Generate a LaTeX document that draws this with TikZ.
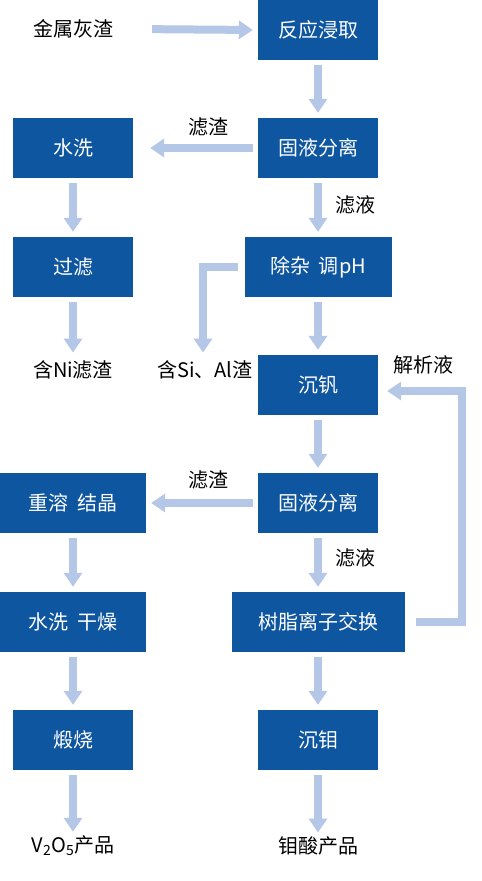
\documentclass[tikz,border=0pt]{standalone}
\usepackage{fontspec}
\setmainfont{Noto Sans CJK SC}
\usepackage{tikz}
\usetikzlibrary{arrows.meta}
\definecolor{boxblue}{RGB}{14,86,160}
\definecolor{flowblue}{RGB}{180,199,231}
\tikzstyle{stepbox} = [fill=boxblue, text=white, rectangle, inner sep=0pt,
    minimum width=120pt, minimum height=60pt, font=\fontsize{20}{20}\selectfont]
\tikzstyle{plain} = [inner sep=0pt, font=\fontsize{20}{20}\selectfont]
\tikzstyle{flow} = [draw=flowblue, line width=8pt,
    -{Triangle[width=18pt,length=14pt]}, shorten <=5pt, shorten >=5pt]

\begin{document}
\begin{tikzpicture}[x=1pt,y=-1pt]
                \useasboundingbox (0,0) rectangle (482,881);
                % right column
                \node [stepbox] (leach) at (318,30) {反应浸取};
                \node [stepbox] (sep1) at (318,148) {固液分离};
                \node [stepbox, minimum width=147pt] (purify) at (318,267) {除杂~~调pH};
                \node [stepbox] (vprec) at (318,385) {沉钒};
                \node [stepbox] (sep2) at (318,503) {固液分离};
                \node [stepbox, minimum width=173pt] (resin) at (318,622) {树脂离子交换};
                \node [stepbox] (moprec) at (318,740) {沉钼};
                % left column
                \node [stepbox] (wash1) at (73,148) {水洗};
                \node [stepbox] (filter) at (73,267) {过滤};
                \node [stepbox, minimum width=146pt] (cryst) at (73,503) {重溶~~结晶};
                \node [stepbox, minimum width=146pt] (dry) at (73,622) {水洗~~干燥};
                \node [stepbox] (calcine) at (73,740) {煅烧};
                % plain texts
                \node [plain] (ash) at (73,29) {金属灰渣};
                \node [plain] (niRes) at (73,370) {含Ni滤渣};
                \node [plain] (siAl) at (205,370) {含Si、Al渣};
                \node [plain] (eluate) at (423,365) {解析液};
                \node [plain] (vprod) at (73,846) {V\textsubscript{2}O\textsubscript{5}产品};
                \node [plain] (moprod) at (318,846) {钼酸产品};
                \node [plain] at (208,127) {滤渣};
                \node [plain] at (355,205) {滤液};
                \node [plain] at (208,480) {滤渣};
                \node [plain] at (355,558) {滤液};
                % arrows
                \draw [flow, shorten <=22pt] (ash.east) ++(17pt,0) -- (leach.west);
                \draw [flow] (leach) -- (sep1);
                \draw [flow, shorten >=17pt] (sep1) -- (wash1);
                \draw [flow] (sep1) -- (purify);
                \draw [flow] (wash1) -- (filter);
                \draw [flow, shorten >=8pt] (filter) -- (niRes);
                \draw [flow, shorten >=8pt] ([xshift=-1pt]purify.west) -| ([xshift=-2pt]siAl.north);
                \draw [flow] (purify) -- (vprec);
                \draw [flow] (vprec) -- (sep2);
                \draw [flow] (sep2) -- (cryst);
                \draw [flow] (sep2) -- (resin);
                \draw [flow] (cryst) -- (dry);
                \draw [flow] (dry) -- (calcine);
                \draw [flow] (resin) -- (moprec);
                \draw [flow, shorten >=4pt] (calcine) -- (vprod);
                \draw [flow, shorten >=4pt] (moprec) -- (moprod);
                \draw [flow, shorten <=11pt, shorten >=9pt] (resin.east) -- ++(57pt,0) |- ([yshift=-6pt]vprec.east);
            \end{tikzpicture}
\end{document}
